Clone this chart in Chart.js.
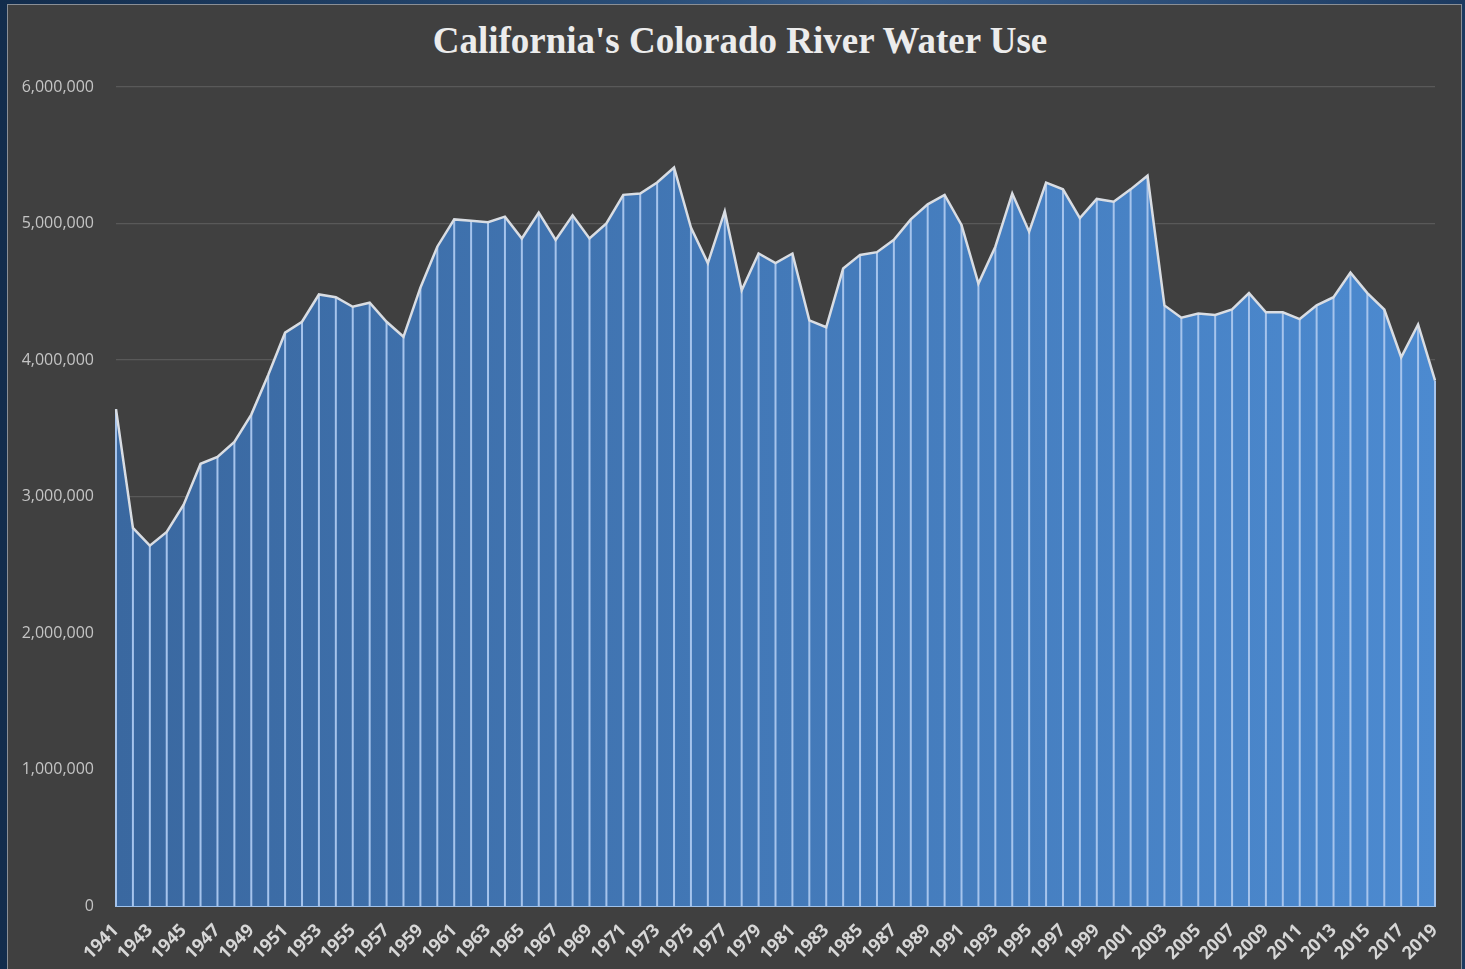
<!DOCTYPE html>
<html>
<head>
<meta charset="utf-8">
<script src="https://cdn.jsdelivr.net/npm/chart.js@4.4.1/dist/chart.umd.min.js"></script>
<style>
  html, body { margin: 0; padding: 0; }
  body {
    width: 1465px; height: 969px; overflow: hidden;
    background: linear-gradient(90deg, #122c4c 0%, #2a4e78 45%, #3b6190 60%, #1c3a60 100%);
    position: relative;
  }
  #panel {
    position: absolute; left: 7px; top: 4px; width: 1455px; height: 970px;
    background: #404040; border: 1px solid #8a8f96; box-sizing: border-box;
  }
  #wrap { position: absolute; left: 0; top: 0; width: 1465px; height: 969px; }
  #title {
    position: absolute; left: 0; width: 1480px; top: 19px; margin: 0;
    text-align: center; color: #ececec;
    font: bold 37px "Liberation Serif", serif; line-height: 44px;
  }
</style>
</head>
<body>
<div id="panel"></div>
<h1 id="title">California's Colorado River Water Use</h1>
<div id="wrap"><canvas id="waterUse" width="1465" height="969"></canvas></div>
<script>
var years = [];
for (var y = 1941; y <= 2019; y++) years.push(String(y));

// acre-feet per year
var waterUse = [
  3640000, 2770000, 2640000, 2740000, 2940000, 3240000, 3290000, 3400000, 3600000, 3890000,
  4200000, 4280000, 4480000, 4460000, 4390000, 4420000, 4280000, 4170000, 4530000, 4830000,
  5030000, 5020000, 5010000, 5050000, 4890000, 5080000, 4880000, 5060000, 4890000, 5000000,
  5210000, 5220000, 5300000, 5410000, 4970000, 4710000, 5090000, 4510000, 4780000, 4710000,
  4780000, 4290000, 4240000, 4670000, 4770000, 4790000, 4880000, 5030000, 5140000, 5210000,
  4990000, 4560000, 4830000, 5220000, 4940000, 5300000, 5250000, 5040000, 5180000, 5160000,
  5250000, 5350000, 4400000, 4310000, 4340000, 4330000, 4370000, 4490000, 4350000, 4350000,
  4300000, 4400000, 4460000, 4640000, 4490000, 4370000, 4020000, 4260000, 3850000
];

var yTicks = [0, 1000000, 2000000, 3000000, 4000000, 5000000, 6000000];

// vertical white lines from every point down to the axis
var dropLines = {
  id: "dropLines",
  beforeDatasetDraw: function (chart, args) {
    if (args.index !== 0) return;
    var ctx = chart.ctx;
    var bottom = chart.chartArea.bottom;
    ctx.save();
    ctx.strokeStyle = "#a6c4ec";
    ctx.lineWidth = 2;
    chart.getDatasetMeta(0).data.forEach(function (p) {
      ctx.beginPath();
      ctx.moveTo(p.x, p.y);
      ctx.lineTo(p.x, bottom);
      ctx.stroke();
    });
    ctx.restore();
  }
};

new Chart("waterUse", {
  type: "line",
  data: {
    labels: years,
    datasets: [{
      data: waterUse,
      fill: "origin",
      tension: 0,
      pointRadius: 0,
      borderColor: "#d9dde3",
      borderWidth: 2.5,
      backgroundColor: function (c) {
        var area = c.chart.chartArea;
        if (!area) return "#4479b8";
        var g = c.chart.ctx.createLinearGradient(area.left, 0, area.right, 0);
        g.addColorStop(0, "#3a68a0");
        g.addColorStop(1, "#4c8ad0");
        return g;
      }
    }]
  },
  options: {
    responsive: false,
    animation: false,
    layout: { padding: { left: 0, right: 30, top: 87, bottom: 0 } },
    plugins: {
      legend: { display: false },
      tooltip: { enabled: false },
      filler: { drawTime: "beforeDatasetDraw" }
    },
    scales: {
      x: {
        grid: { display: false },
        border: { display: true, color: "#9fc2ec", width: 2 },
        afterFit: function (s) { s.height = 63; },
        ticks: {
          autoSkip: false,
          maxRotation: 45,
          minRotation: 45,
          padding: 6,
          color: "#d6d6d6",
          font: { family: "'Open Sans', sans-serif", size: 18, weight: "bold" },
          callback: function (v, i) { return i % 2 === 0 ? years[i] : ""; }
        }
      },
      y: {
        min: 0,
        max: 6000000,
        afterFit: function (s) { s.width = 116; },
        afterBuildTicks: function (s) { s.ticks = yTicks.map(function (v) { return { value: v }; }); },
        grid: { color: "#595959", lineWidth: 1.2, drawTicks: false },
        border: { display: false },
        ticks: {
          padding: 22,
          color: "#c4c4c4",
          font: { family: "'Open Sans', sans-serif", size: 16 },
          callback: function (v) { return v.toLocaleString("en-US"); }
        }
      }
    }
  },
  plugins: [dropLines]
});
</script>
</body>
</html>
